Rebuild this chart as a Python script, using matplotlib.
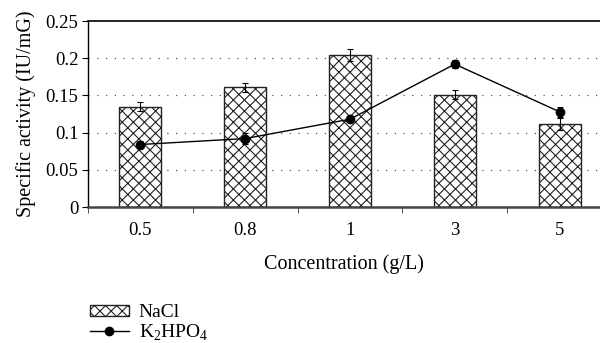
import matplotlib
matplotlib.use("Agg")
import matplotlib.pyplot as plt
from matplotlib.patches import Patch
from matplotlib.lines import Line2D
import numpy as np

plt.rcParams['font.family'] = ['Liberation Serif', 'DejaVu Serif']
plt.rcParams['hatch.linewidth'] = 0.8
plt.rcParams['mathtext.fontset'] = 'custom'
plt.rcParams['mathtext.rm'] = 'Liberation Serif'

categories = ['0.5', '0.8', '1', '3', '5']
nacl = [0.135, 0.161, 0.204, 0.151, 0.111]
nacl_err = [0.006, 0.006, 0.008, 0.006, 0.008]
k2hpo4 = [0.084, 0.092, 0.118, 0.192, 0.128]
k2hpo4_err = [0.005, 0.007, 0.004, 0.005, 0.007]
yticks = [0, 0.05, 0.1, 0.15, 0.2, 0.25]
ytick_labels = ['0', '0.05', '0.1', '0.15', '0.2', '0.25']

fig = plt.figure(figsize=(6.0, 3.43), dpi=100)
ax = fig.add_axes([88/600, (343-207)/343, 1 - 88/600, (207-21)/343])

x = np.arange(len(categories))
ax.bar(x, nacl, width=0.4, color='white', edgecolor='#222222', hatch='xxx',
       linewidth=1.0, zorder=2)
ax.errorbar(x, nacl, yerr=nacl_err, fmt='none', ecolor='black', elinewidth=0.8,
            capsize=2.5, capthick=0.8, zorder=3)
ax.errorbar(x, k2hpo4, yerr=k2hpo4_err, color='black', marker='o', markersize=6,
            linewidth=1.0, elinewidth=0.8, capsize=2.5, capthick=0.8, zorder=4)

ax.set_xlim(-0.5, 4.386)
ax.set_ylim(0, 0.25)
ax.set_yticks(yticks)
ax.set_yticklabels(ytick_labels)
ax.set_xticks(x)
ax.set_xticklabels(categories)
ax.set_xticks(np.arange(-0.5, 4.5, 1.0), minor=True)
ax.tick_params(axis='x', which='major', length=0, pad=11, labelsize=13.5)
ax.tick_params(axis='x', which='minor', length=4, direction='out', color='#333333')
ax.tick_params(axis='y', length=4, direction='out', labelsize=13.5, pad=3)

for yv in yticks[1:-1]:
    ax.axhline(yv, color='#555555', linestyle=(0, (1, 6)), linewidth=0.9, zorder=1)

ax.spines['right'].set_visible(False)
ax.spines['top'].set_linewidth(1.2)
ax.spines['left'].set_linewidth(1.0)
ax.spines['bottom'].set_linewidth(1.8)
ax.spines['bottom'].set_color('#444444')

ax.set_ylabel('Specific activity (IU/mG)', fontsize=14.5, labelpad=7)
ax.set_xlabel('Concentration (g/L)', fontsize=14.5, labelpad=11)

handles = [
    Patch(facecolor='white', edgecolor='#222222', hatch='xxx', linewidth=1.0),
    Line2D([0], [0], color='black', marker='o', markersize=6, linewidth=1.0),
]
labels = ['NaCl', r'K$_2$HPO$_4$']
fig.legend(handles, labels, loc='upper left', bbox_to_anchor=(0.15, 0.113),
           frameon=False, fontsize=14, handlelength=2.0, handleheight=0.5,
           labelspacing=0.05, handletextpad=0.5, borderaxespad=0, borderpad=0)

fig.savefig('out.png', dpi=100)
